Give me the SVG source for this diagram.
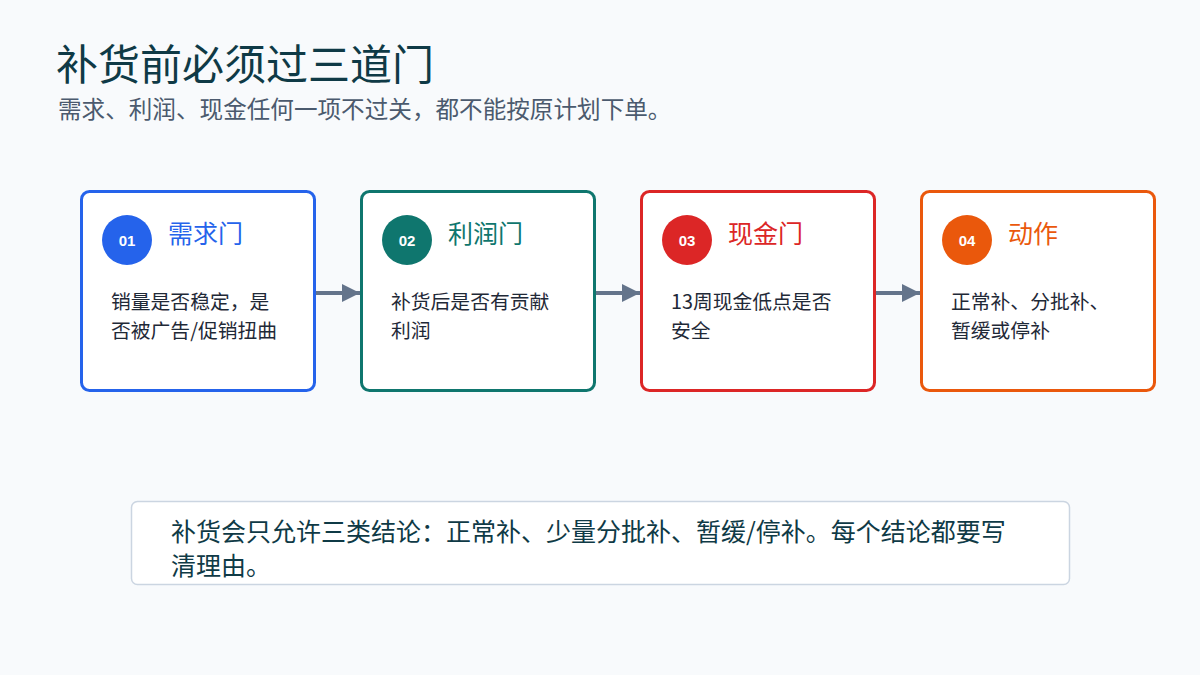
<svg xmlns="http://www.w3.org/2000/svg" width="1200" height="675" viewBox="0 0 1200 675">
<defs>
<style>
.cjk{font-family:"Noto Sans CJK SC","Noto Sans",sans-serif}
.title{font-size:42px;fill:#0f3a46}
.sub{font-size:23.6px;fill:#4b5a6e}
.card{fill:#ffffff;stroke-width:3}
.num{font-family:"Liberation Sans",Arial,sans-serif;font-weight:bold;font-size:15px;fill:#ffffff;text-anchor:middle}
.head{font-size:25px}
.body{font-size:19.8px;fill:#1f2937}
.conn{stroke:#64748b;stroke-width:4;fill:none}
.note{font-size:25px;fill:#0f3a46}
</style>
<marker id="ah" viewBox="0 0 10 10" refX="10" refY="5" markerWidth="4.5" markerHeight="4.5" markerUnits="strokeWidth" orient="auto">
<path d="M0,0 L10,5 L0,10 Z" fill="#64748b"/>
</marker>
</defs>
<rect width="1200" height="675" fill="#f8fafc"/>
<g id="header" class="cjk">
<text class="title cjk" x="56" y="80">补货前必须过三道门</text>
<text class="sub cjk" x="58" y="118">需求、利润、现金任何一项不过关，都不能按原计划下单。</text>
</g>
<g id="connectors">
<line class="conn" x1="316" y1="293" x2="360" y2="293" marker-end="url(#ah)"/>
<line class="conn" x1="596" y1="293" x2="640" y2="293" marker-end="url(#ah)"/>
<line class="conn" x1="876" y1="293" x2="920" y2="293" marker-end="url(#ah)"/>
</g>
<g id="node1">
<rect class="card" x="81.5" y="191.5" width="233" height="199" rx="8" stroke="#2563eb"/>
<circle cx="127" cy="240" r="25" fill="#2563eb"/>
<text class="num" x="127" y="245.5">01</text>
<text class="head cjk" x="168" y="243" fill="#2563eb">需求门</text>
<text class="body cjk" x="111" y="309">销量是否稳定，是</text>
<text class="body cjk" x="111" y="338">否被广告/促销扭曲</text>
</g>
<g id="node2">
<rect class="card" x="361.5" y="191.5" width="233" height="199" rx="8" stroke="#0f766e"/>
<circle cx="407" cy="240" r="25" fill="#0f766e"/>
<text class="num" x="407" y="245.5">02</text>
<text class="head cjk" x="448" y="243" fill="#0f766e">利润门</text>
<text class="body cjk" x="391" y="309">补货后是否有贡献</text>
<text class="body cjk" x="391" y="338">利润</text>
</g>
<g id="node3">
<rect class="card" x="641.5" y="191.5" width="233" height="199" rx="8" stroke="#dc2626"/>
<circle cx="687" cy="240" r="25" fill="#dc2626"/>
<text class="num" x="687" y="245.5">03</text>
<text class="head cjk" x="728" y="243" fill="#dc2626">现金门</text>
<text class="body cjk" x="671" y="309">13周现金低点是否</text>
<text class="body cjk" x="671" y="338">安全</text>
</g>
<g id="node4">
<rect class="card" x="921.5" y="191.5" width="233" height="199" rx="8" stroke="#ea580c"/>
<circle cx="967" cy="240" r="25" fill="#ea580c"/>
<text class="num" x="967" y="245.5">04</text>
<text class="head cjk" x="1008" y="243" fill="#ea580c">动作</text>
<text class="body cjk" x="951" y="309">正常补、分批补、</text>
<text class="body cjk" x="951" y="338">暂缓或停补</text>
</g>
<g id="note">
<rect x="131.5" y="501.5" width="938" height="83" rx="6" fill="#ffffff" stroke="#cbd5e1" stroke-width="1.5"/>
<text class="note cjk" x="171" y="541">补货会只允许三类结论：正常补、少量分批补、暂缓/停补。每个结论都要写</text>
<text class="note cjk" x="171" y="575">清理由。</text>
</g>
</svg>
